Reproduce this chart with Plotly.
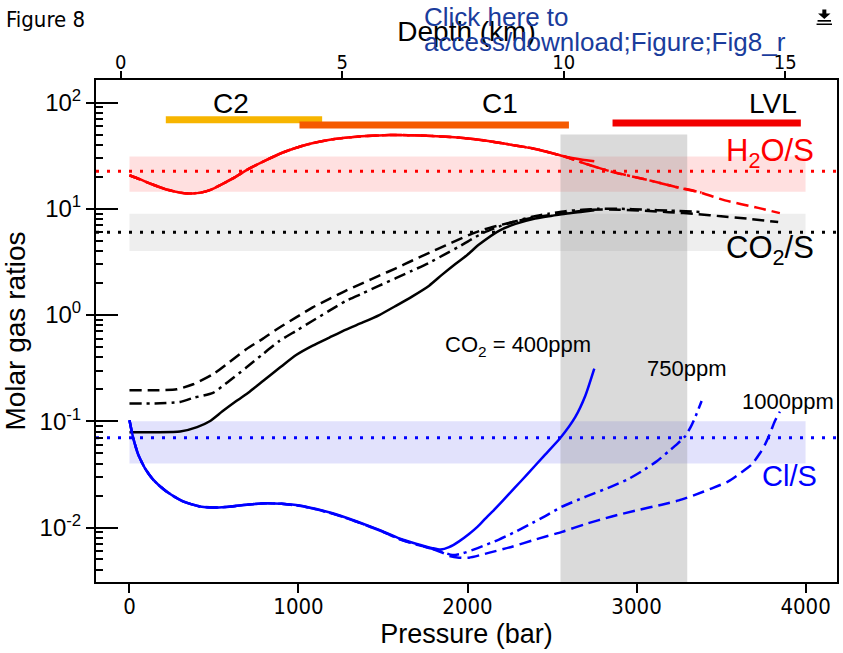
import math
import plotly.graph_objects as go

# ---------------- data ----------------
pressure_range = [-198, 4186]          # bar
depth_range = [-0.56, 16.17]           # km
ratio_range = [0.00307, 163]           # molar ratio (log axis)

pressure_ticks = [0, 1000, 2000, 3000, 4000]
depth_ticks = [0, 5, 10, 15]
ratio_ticks = [0.01, 0.1, 1, 10, 100]
ratio_ticktext = ["10<sup>-2</sup>", "10<sup>-1</sup>", "10<sup>0</sup>",
                  "10<sup>1</sup>", "10<sup>2</sup>"]
ratio_minor = [k * 10.0 ** n for n in range(-3, 3) for k in range(2, 10)]

# H2O/S
h2o_400_p = [0, 60, 121, 219, 300, 357, 420, 475, 540, 612, 700, 809, 900, 1006, 1100,
             1202, 1300, 1400, 1537, 1650, 1792, 1900, 1989, 2100, 2186, 2280, 2382,
             2480, 2579, 2680, 2750]
h2o_400_v = [20.7, 19.0, 17.3, 15.2, 14.2, 13.9, 14.2, 15.0, 16.8, 19.3, 23.5, 28.7, 33.5,
             38.4, 42.0, 45.1, 47.0, 48.4, 49.5, 49.3, 48.4, 47.4, 46.1, 44.0, 41.9, 39.5,
             37.1, 34.0, 30.9, 29.0, 28.0]
h2o_750_p = [0, 60, 121, 219, 300, 357, 420, 475, 540, 612, 700, 809, 900, 1006, 1100,
             1202, 1300, 1400, 1537, 1650, 1792, 1900, 1989, 2100, 2186, 2280, 2382,
             2480, 2579, 2700, 2854, 3071, 3228, 3385]
h2o_750_v = [20.7, 19.0, 17.3, 15.2, 14.2, 13.9, 14.2, 15.0, 16.8, 19.3, 23.5, 28.7, 33.5,
             38.4, 42.0, 45.1, 47.0, 48.4, 49.5, 49.3, 48.4, 47.4, 46.1, 44.0, 41.9, 39.5,
             37.1, 34.0, 30.9, 26.5, 22.3, 18.6, 16.1, 14.2]
h2o_1000_p = [0, 60, 121, 219, 300, 357, 420, 475, 540, 612, 700, 809, 900, 1006, 1100,
              1202, 1300, 1400, 1537, 1650, 1792, 1900, 1989, 2100, 2186, 2280, 2382,
              2480, 2579, 2700, 2854, 3071, 3228, 3366, 3523, 3720, 3848]
h2o_1000_v = [20.7, 19.0, 17.3, 15.2, 14.2, 13.9, 14.2, 15.0, 16.8, 19.3, 23.5, 28.7, 33.5,
              38.4, 42.0, 45.1, 47.0, 48.4, 49.5, 49.3, 48.4, 47.4, 46.1, 44.0, 41.9, 39.5,
              37.1, 34.0, 30.9, 26.5, 22.3, 18.6, 16.1, 14.4, 12.0, 10.2, 9.1]

# CO2/S
co2_400_p = [0, 150, 300, 400, 475, 550, 632, 711, 790, 890, 986, 1084, 1183, 1281, 1380,
             1478, 1576, 1674, 1773, 1850, 1930, 2000, 2068, 2186, 2284, 2400, 2500, 2579,
             2680, 2750]
co2_400_v = [0.079, 0.079, 0.080, 0.088, 0.100, 0.124, 0.155, 0.190, 0.239, 0.32, 0.420,
             0.515, 0.614, 0.73, 0.851, 1.0, 1.22, 1.5, 1.89, 2.4, 3.04, 3.7, 4.6, 6.2, 7.2,
             8.1, 8.6, 9.0, 9.4, 9.7]
co2_750_p = [0, 150, 300, 377, 494, 590, 691, 790, 888, 986, 1084, 1183, 1281, 1380, 1478,
             1576, 1674, 1773, 1871, 1950, 2028, 2100, 2186, 2280, 2382, 2480, 2580, 2680,
             2776, 2900, 3050, 3200, 3400]
co2_750_v = [0.147, 0.147, 0.152, 0.166, 0.185, 0.24, 0.32, 0.43, 0.571, 0.71, 0.883, 1.1,
             1.36, 1.6, 1.89, 2.22, 2.62, 3.1, 3.77, 4.4, 5.22, 6.0, 6.8, 7.6, 8.4, 9.0, 9.5,
             9.8, 10.0, 10.0, 9.8, 9.6, 9.3]
co2_1000_p = [0, 150, 280, 377, 494, 590, 691, 790, 888, 986, 1084, 1183, 1281, 1380, 1478,
              1576, 1674, 1773, 1871, 1950, 2028, 2100, 2186, 2300, 2400, 2481, 2600, 2736,
              2900, 3050, 3189, 3366, 3500, 3650, 3838]
co2_1000_v = [0.196, 0.196, 0.2, 0.223, 0.277, 0.36, 0.477, 0.60, 0.763, 0.95, 1.18, 1.42,
              1.70, 2.0, 2.35, 2.75, 3.26, 3.85, 4.52, 5.15, 5.83, 6.4, 6.98, 7.7, 8.3, 8.7,
              9.2, 9.8, 9.8, 9.6, 9.3, 8.9, 8.5, 8.1, 7.5]

# Cl/S
cl_400_p = [0, 22, 52, 91, 140, 219, 317, 416, 494, 570, 652, 730, 809, 900,
            1006, 1100, 1202, 1300, 1400, 1500, 1596, 1700, 1792, 1840, 1891, 1950, 2009,
            2060, 2107, 2160, 2205, 2280, 2353, 2450, 2550, 2638, 2697, 2750]
cl_400_v = [0.102, 0.0697, 0.0485, 0.0363, 0.0282, 0.0218, 0.0176, 0.0158, 0.0154, 0.0156,
            0.0161, 0.0166, 0.0169, 0.0167, 0.0161, 0.015, 0.0136, 0.0121, 0.0106, 0.0092,
            0.0079, 0.0070, 0.0064, 0.0062, 0.00653, 0.00741, 0.0087, 0.0102, 0.0122,
            0.0148, 0.0176, 0.0237, 0.0316, 0.0468, 0.070, 0.110, 0.174, 0.313]
cl_750_p = [0, 22, 52, 91, 140, 219, 317, 416, 494, 570, 652, 730, 809, 900,
            1006, 1100, 1202, 1300, 1400, 1500, 1596, 1700, 1792, 1850, 1910, 1969, 2060,
            2186, 2270, 2363, 2460, 2559, 2700, 2854, 2950, 3031, 3120, 3189, 3240, 3287,
            3320, 3346, 3385]
cl_750_v = [0.102, 0.0697, 0.0485, 0.0363, 0.0282, 0.0218, 0.0176, 0.0158, 0.0154, 0.0156,
            0.0161, 0.0166, 0.0169, 0.0167, 0.0160, 0.0149, 0.0135, 0.0120, 0.0105, 0.0091,
            0.0078, 0.0069, 0.0063, 0.0059, 0.0055, 0.0057, 0.0064, 0.0077, 0.0089, 0.0106,
            0.0128, 0.0157, 0.0195, 0.0244, 0.0285, 0.0339, 0.042, 0.052, 0.061, 0.072,
            0.088, 0.108, 0.155]
cl_1000_p = [0, 22, 52, 91, 140, 219, 317, 416, 494, 570, 652, 730, 809, 900,
             1006, 1100, 1202, 1300, 1400, 1500, 1596, 1700, 1792, 1850, 1891, 1950, 2009,
             2130, 2264, 2400, 2559, 2700, 2854, 3000, 3149, 3250, 3346, 3450, 3543, 3620,
             3680, 3730, 3759, 3790, 3818, 3848]
cl_1000_v = [0.102, 0.0697, 0.0485, 0.0363, 0.0282, 0.0218, 0.0176, 0.0158, 0.0154, 0.0156,
             0.0161, 0.0166, 0.0169, 0.0167, 0.0160, 0.0149, 0.0135, 0.0120, 0.0105, 0.0091,
             0.0078, 0.0069, 0.0063, 0.0058, 0.0054, 0.0052, 0.0052, 0.0058, 0.0066, 0.0077,
             0.0091, 0.0108, 0.0127, 0.0145, 0.0164, 0.018, 0.0203, 0.0235, 0.0272, 0.033,
             0.039, 0.05, 0.060, 0.077, 0.1, 0.123]

# measured ratios (dotted) with their ranges (shaded bands)
h2o_ref, h2o_band = 22.6, [14.5, 31]
co2_ref, co2_band = 6.0, [4.0, 9.0]
cl_ref, cl_band = 0.07, [0.04, 0.1]
band_pressure = [0, 4000]

# pressure window highlighted in grey
window_pressure = [2550, 3300]
window_top = 50

# storage regions
regions = ["C2", "C1", "LVL"]
region_pressure = [[215, 1140], [1006, 2600], [2858, 3972]]
region_level = [69, 61.5, 64.3]
region_colors = ["#f7b500", "#f55a00", "#f20000"]
region_label_p = [599, 2192, 3808]
region_label_v = [97, 97, 97]

# ---------------- figure ----------------
FONT = "Liberation Sans, Arial, sans-serif"
NARROW = "Liberation Sans Narrow, Arial Narrow, DejaVu Sans Condensed, Liberation Sans, sans-serif"

W, H = 843, 653
L, R, T, B = 96, 4, 80, 71


def px(x):
    return (x - L) / (W - L - R)


def py(y):
    return (H - B - y) / (H - T - B)


fig = go.Figure()


def band(xr, yr, color):
    fig.add_trace(go.Scatter(
        x=[xr[0], xr[1], xr[1], xr[0], xr[0]], y=[yr[0], yr[0], yr[1], yr[1], yr[0]],
        mode="lines", fill="toself", fillcolor=color, line=dict(width=0),
        hoverinfo="skip", showlegend=False))


band(band_pressure, h2o_band, "rgba(255,0,0,0.12)")
band(band_pressure, co2_band, "rgba(0,0,0,0.065)")
band(band_pressure, cl_band, "rgba(20,20,230,0.12)")
band(window_pressure, [ratio_range[0], window_top], "rgba(140,140,140,0.32)")

DOT = "3px,8px"
for ref, color in [(h2o_ref, "#ff0000"), (co2_ref, "#000000"), (cl_ref, "#0000ff")]:
    fig.add_trace(go.Scatter(x=pressure_range, y=[ref, ref], mode="lines",
                             line=dict(color=color, width=3, dash=DOT),
                             hoverinfo="skip", showlegend=False))

DASH = "12px,6px"
DASHDOT = "12px,5px,3px,5px"
series = [
    (h2o_1000_p, h2o_1000_v, "#ff0000", DASH),
    (h2o_750_p, h2o_750_v, "#ff0000", DASHDOT),
    (h2o_400_p, h2o_400_v, "#ff0000", "solid"),
    (co2_1000_p, co2_1000_v, "#000000", DASH),
    (co2_750_p, co2_750_v, "#000000", DASHDOT),
    (co2_400_p, co2_400_v, "#000000", "solid"),
    (cl_1000_p, cl_1000_v, "#0000ff", DASH),
    (cl_750_p, cl_750_v, "#0000ff", DASHDOT),
    (cl_400_p, cl_400_v, "#0000ff", "solid"),
]
for xs, ys, color, dash in series:
    fig.add_trace(go.Scatter(x=xs, y=ys, mode="lines",
                             line=dict(color=color, width=2.5, dash=dash,
                                       shape="spline", smoothing=0.6),
                             showlegend=False))

for name, pr, lev, col in zip(regions, region_pressure, region_level, region_colors):
    fig.add_trace(go.Scatter(x=pr, y=[lev, lev], mode="lines",
                             line=dict(color=col, width=7), name=name, showlegend=False))

# depth axis carrier
fig.add_trace(go.Scatter(x=depth_ticks, y=[None] * len(depth_ticks), xaxis="x2",
                         mode="markers", showlegend=False, hoverinfo="skip"))
# inner half of the major y ticks
fig.add_trace(go.Scatter(x=[None], y=[1], yaxis="y3", mode="markers",
                         showlegend=False, hoverinfo="skip"))

log_range = [math.log10(ratio_range[0]), math.log10(ratio_range[1])]

annotations = []
for name, p, v in zip(regions, region_label_p, region_label_v):
    annotations.append(dict(x=p, y=math.log10(v), text=name, showarrow=False,
                            font=dict(size=28, color="black", family=FONT)))

annotations += [
    dict(x=3791, y=1.525, text="H<sub>2</sub>O/S", showarrow=False,
         font=dict(size=31, color="#ff0000", family=FONT)),
    dict(x=3791, y=0.608, text="CO<sub>2</sub>/S", showarrow=False,
         font=dict(size=31, color="black", family=FONT)),
    dict(x=3903, y=-1.519, text="Cl/S", showarrow=False,
         font=dict(size=29, color="#0000ff", family=FONT)),
    dict(x=2298, y=-0.29, text="CO<sub>2</sub> = 400ppm", showarrow=False,
         font=dict(size=22, color="black", family=FONT)),
    dict(x=3296, y=-0.507, text="750ppm", showarrow=False,
         font=dict(size=22, color="black", family=FONT)),
    dict(x=3897, y=-0.81, text="1000ppm", showarrow=False,
         font=dict(size=22, color="black", family=FONT)),
    dict(xref="paper", yref="paper", x=px(4), y=py(19), xanchor="left", yanchor="middle",
         text="Figure 8", showarrow=False, font=dict(size=22, color="black", family=NARROW)),
    dict(xref="paper", yref="paper", x=px(423), y=py(17), xanchor="left", yanchor="middle",
         text="Click here to", showarrow=False, font=dict(size=26, color="#1a3c9c", family=FONT)),
    dict(xref="paper", yref="paper", x=px(423), y=py(42), xanchor="left", yanchor="middle",
         text="access/download;Figure;Fig8_r", showarrow=False,
         font=dict(size=26, color="#1a3c9c", family=FONT)),
]

shapes = [
    dict(type="path", xref="paper", yref="paper", fillcolor="black", line=dict(width=0),
         path=(f"M {px(824.3)},{py(9.5)} L {px(828.3)},{py(9.5)} L {px(828.3)},{py(13.5)} "
               f"L {px(832.5)},{py(13.5)} L {px(826.3)},{py(19)} L {px(820)},{py(13.5)} "
               f"L {px(824.3)},{py(13.5)} Z")),
    dict(type="rect", xref="paper", yref="paper", fillcolor="black", line=dict(width=0),
         x0=px(819.5), x1=px(833), y0=py(20), y1=py(21.7)),
    dict(type="rect", xref="paper", yref="paper", fillcolor="black", line=dict(width=0),
         x0=px(818.5), x1=px(834), y0=py(23.5), y1=py(25)),
]

fig.update_layout(
    width=W, height=H, margin=dict(l=L, r=R, t=T, b=B),
    paper_bgcolor="white", plot_bgcolor="white",
    font=dict(family=FONT, color="black"),
    showlegend=False,
    xaxis=dict(range=pressure_range, tickvals=pressure_ticks, ticks="outside", ticklen=9,
               tickwidth=1.5, tickcolor="black", showline=True, linewidth=2, linecolor="black",
               mirror=True, showgrid=False, zeroline=False, ticklabelstandoff=-5,
               tickfont=dict(size=22, family=NARROW),
               title=dict(text="Pressure (bar)", font=dict(size=27, family=FONT), standoff=0)),
    xaxis2=dict(range=depth_range, overlaying="x", side="top", anchor="y",
                tickvals=depth_ticks, ticks="outside", ticklen=7, tickwidth=1.5,
                tickcolor="black", showline=True, linewidth=2, linecolor="black",
                showgrid=False, zeroline=False, ticklabelstandoff=-6,
                tickfont=dict(size=20, family=NARROW),
                title=dict(text="Depth (km)", font=dict(size=28, family=FONT), standoff=0)),
    yaxis=dict(type="log", range=log_range, tickvals=ratio_ticks, ticktext=ratio_ticktext,
               ticks="outside", ticklen=8, tickwidth=2, tickcolor="black",
               showline=True, linewidth=2, linecolor="black", mirror=True,
               showgrid=False, zeroline=False, tickfont=dict(size=24, family=FONT),
               minor=dict(tickvals=ratio_minor, ticks="inside", ticklen=7, tickwidth=2,
                          tickcolor="black", showgrid=False),
               title=dict(text="Molar gas ratios", font=dict(size=28, family=FONT), standoff=10)),
    yaxis3=dict(type="log", range=log_range, overlaying="y", anchor="x", side="left",
                tickvals=ratio_ticks, ticks="inside", ticklen=22, tickwidth=2,
                tickcolor="black", showticklabels=False, showline=False, showgrid=False,
                zeroline=False),
    annotations=annotations,
    shapes=shapes,
)

fig.write_html("out.html")
